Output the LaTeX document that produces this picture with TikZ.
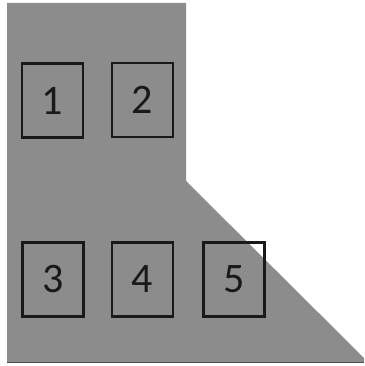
\documentclass[tikz,border=0pt]{standalone}
\usepackage{fontspec}
\setmainfont{Carlito}
\begin{document}
\begin{tikzpicture}[x=1pt,y=-1pt,
  numbox/.style={draw=black!90,line width=2.4pt,minimum width=61pt,minimum height=74pt,inner sep=0pt,font=\fontsize{42}{42}\selectfont,text=black!90}]
\useasboundingbox (0,0) rectangle (364,366);
\definecolor{shapegray}{gray}{0.55}
\fill[shapegray] (7,3) -- (186,3) -- (186,181) -- (364,358) -- (364,362) -- (7,362) -- cycle;
\draw[black!70,line width=1pt] (7,362) -- (364,362);
\node[numbox] (n1) at (52.5,100.5) {1};
\node[numbox] (n2) at (142.5,100) {2};
\node[numbox] (n3) at (53,279.5) {3};
\node[numbox] (n4) at (142.5,279.5) {4};
\node[numbox] (n5) at (234,279.5) {5};
\end{tikzpicture}
\end{document}
